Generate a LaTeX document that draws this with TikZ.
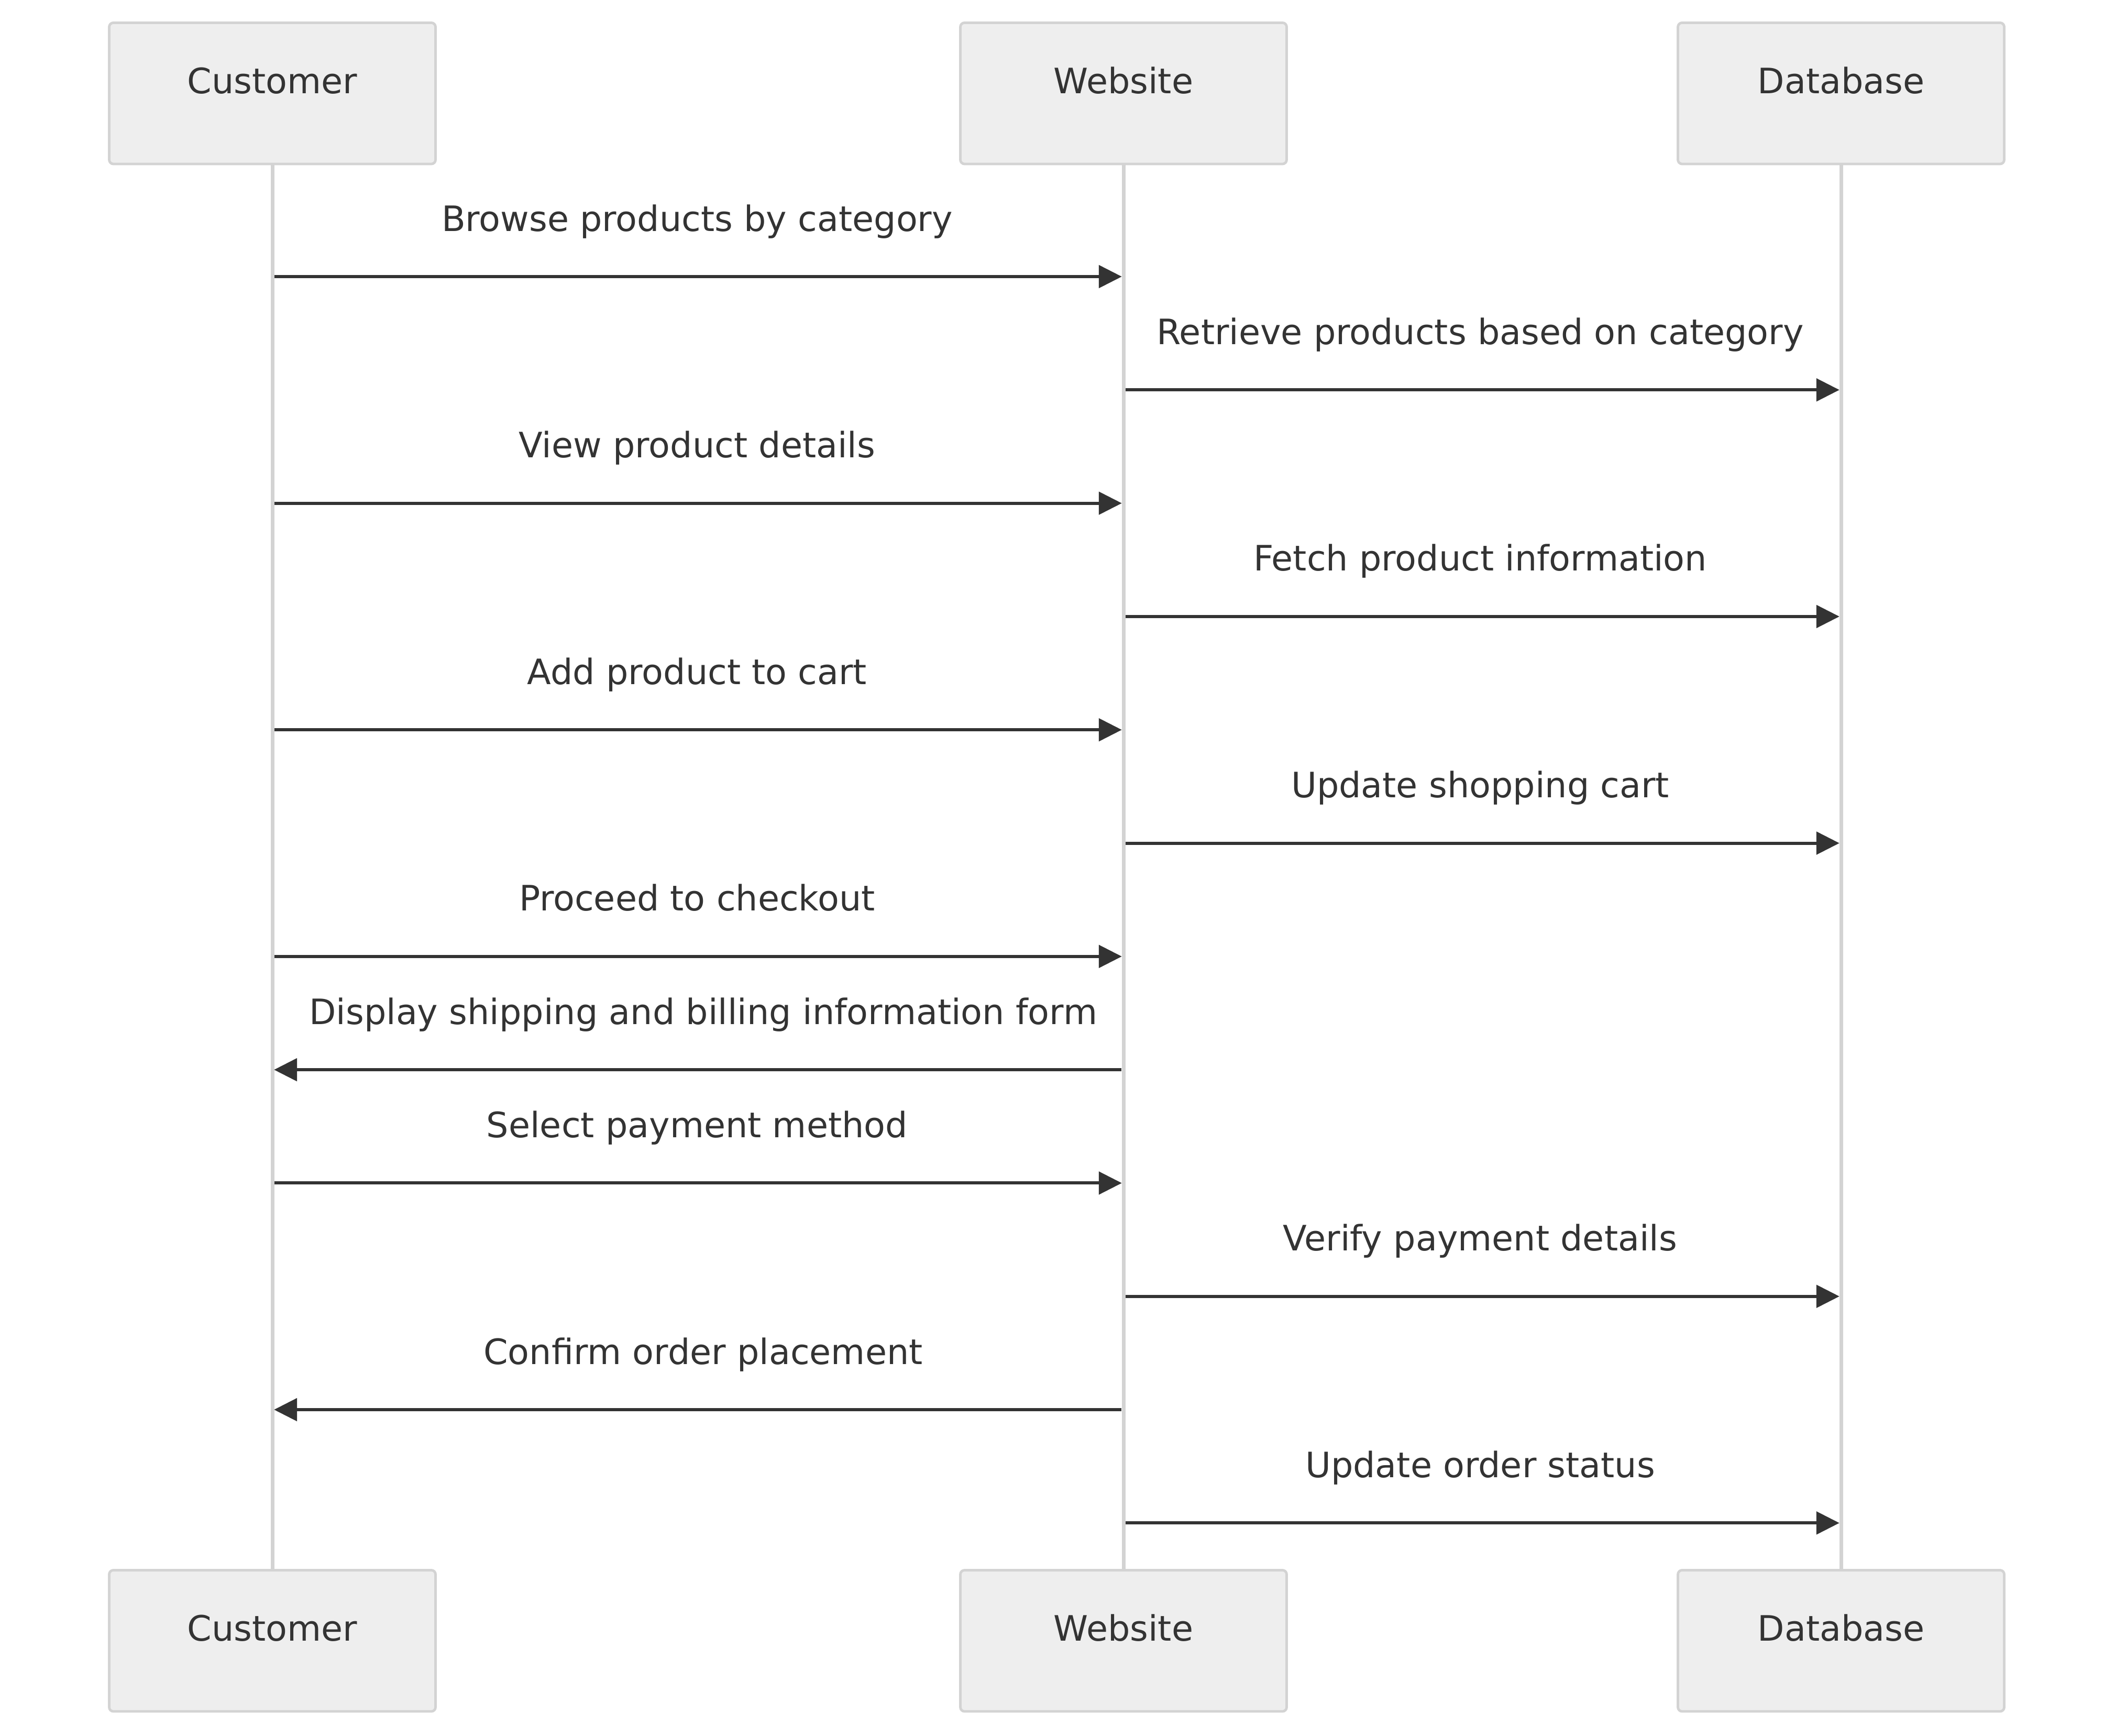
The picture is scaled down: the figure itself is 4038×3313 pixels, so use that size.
\documentclass[tikz,border=0pt]{standalone}
\usepackage{fontspec}
\setmainfont{DejaVu Sans}
\usetikzlibrary{arrows.meta}
\definecolor{boxfill}{HTML}{EEEEEE}
\definecolor{boxline}{HTML}{D3D3D3}
\definecolor{ink}{HTML}{333333}
\begin{document}
\begin{tikzpicture}[x=0.25pt,y=-0.25pt,
  actor/.style={draw=boxline, line width=1.2pt, fill=boxfill, rounded corners=2pt,
    minimum width=155.75pt, inner sep=0pt, text height=33.7pt, text depth=33.7pt,
    anchor=north, text=ink, font=\fontsize{16.7}{20}\selectfont},
  life/.style={draw=boxline, line width=1.75pt},
  msg/.style={draw=ink, line width=1.5pt, -{Triangle[length=11pt,width=10.75pt]},
    shorten <=1pt, shorten >=0.8pt},
  lbl/.style={midway, anchor=base, yshift=21.75pt, inner sep=0pt, text=ink,
    font=\fontsize{16.7}{20}\selectfont}]
\useasboundingbox (0,0) rectangle (4038,3313);
% top actors
\node[actor] (cT) at (520,41) {Customer};
\node[actor] (wT) at (2145,41) {Website};
\node[actor] (dT) at (3515,41) {Database};
% bottom actors
\node[actor] (cB) at (520,2995) {Customer};
\node[actor] (wB) at (2145,2995) {Website};
\node[actor] (dB) at (3515,2995) {Database};
% lifelines
\draw[life] (cT.south) -- (cB.north);
\draw[life] (wT.south) -- (wB.north);
\draw[life] (dT.south) -- (dB.north);
% message rows
\coordinate (r1) at (0,528);
\coordinate (r2) at (0,744.3);
\coordinate (r3) at (0,960.6);
\coordinate (r4) at (0,1176.9);
\coordinate (r5) at (0,1393.2);
\coordinate (r6) at (0,1609.5);
\coordinate (r7) at (0,1825.8);
\coordinate (r8) at (0,2042.1);
\coordinate (r9) at (0,2258.4);
\coordinate (r10) at (0,2474.7);
\coordinate (r11) at (0,2691);
\coordinate (r12) at (0,2907.3);
% messages
\draw[msg] (cT |- r1) -- node[lbl, xshift=-0.4pt]{Browse products by category} (wT |- r1);
\draw[msg] (wT |- r2) -- node[lbl, xshift=-1pt]{Retrieve products based on category} (dT |- r2);
\draw[msg] (cT |- r3) -- node[lbl, xshift=-0.4pt]{View product details} (wT |- r3);
\draw[msg] (wT |- r4) -- node[lbl, xshift=-1pt]{Fetch product information} (dT |- r4);
\draw[msg] (cT |- r5) -- node[lbl, xshift=-0.4pt]{Add product to cart} (wT |- r5);
\draw[msg] (wT |- r6) -- node[lbl, xshift=-1pt]{Update shopping cart} (dT |- r6);
\draw[msg] (cT |- r7) -- node[lbl, xshift=-0.4pt]{Proceed to checkout} (wT |- r7);
\draw[msg] (wT |- r8) -- node[lbl, xshift=2.5pt]{Display shipping and billing information form} (cT |- r8);
\draw[msg] (cT |- r9) -- node[lbl, xshift=-0.4pt]{Select payment method} (wT |- r9);
\draw[msg] (wT |- r10) -- node[lbl, xshift=-1pt]{Verify payment details} (dT |- r10);
\draw[msg] (wT |- r11) -- node[lbl, xshift=2.5pt]{Confirm order placement} (cT |- r11);
\draw[msg] (wT |- r12) -- node[lbl, xshift=-1pt]{Update order status} (dT |- r12);
\end{tikzpicture}
\end{document}
